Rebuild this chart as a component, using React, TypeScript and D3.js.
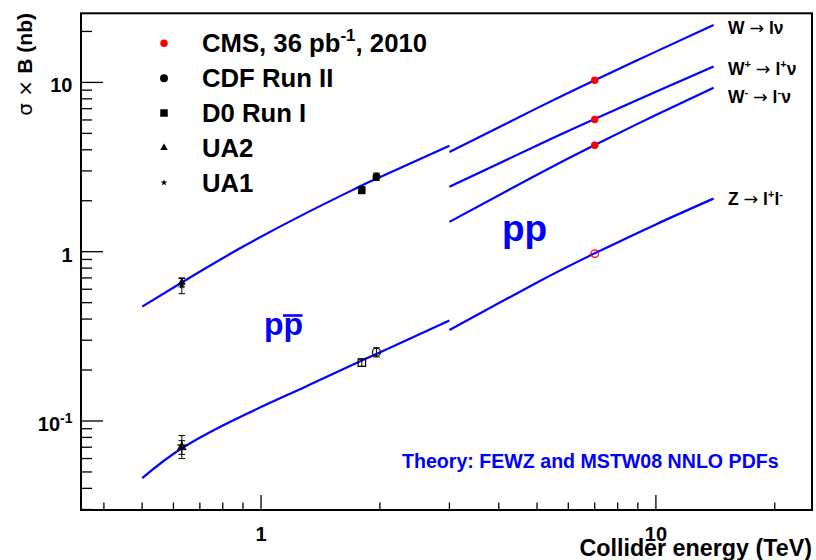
import * as d3 from "d3";

// axis ranges (TeV, nb)
const xDomain = [0.35, 24.85];
const yDomain = [0.0298, 25.6];
const xLabelValues = [1, 10];
const yLabelValues = [0.1, 1, 10];

// theory curves, p-pbar
const ppbarEnergy = [0.5, 0.63, 0.88, 1.3, 1.8, 1.96, 3.0];
const ppbarW = [0.474, 0.658, 1.04, 1.69, 2.46, 2.7, 4.22];
const ppbarZ = [0.046, 0.069, 0.105, 0.16, 0.228, 0.249, 0.392];

// theory curves, pp
const ppEnergy = [3, 5, 7, 10, 14];
const ppW = [3.88, 7.05, 10.3, 15.2, 21.8];
const ppWplus = [2.42, 4.24, 6.07, 8.8, 12.4];
const ppWminus = [1.5, 2.85, 4.27, 6.42, 9.29];
const ppZ = [0.345, 0.658, 0.978, 1.45, 2.06];

// measurements
const experiments = ["CMS", "CDF", "D0", "UA2", "UA1"];
const expEnergy = [7, 1.96, 1.8, 0.63, 0.63];
const expW = [10.31, 2.775, 2.31, 0.66, 0.63];
const expWErr = [0, 0.14, 0.11, 0.04, 0.065];
const expZ = [0.974, 0.2549, 0.221, 0.07, 0.071];
const expZErr = [0, 0.016, 0.011, 0.0065, 0.011];
const cmsWplus = 6.04;
const cmsWminus = 4.26;

const legendLabels = ["CMS, 36 pb", "CDF Run II", "D0 Run I", "UA2", "UA1"];

const W = 816;
const H = 560;
const frame = { left: 81, top: 13.3, right: 812, bottom: 510 };
const BLUE = "#0000ff";
const RED = "#ff0000";
const FONT = "'Liberation Sans', Arial, Helvetica, sans-serif";
const SYM = "'DejaVu Sans', sans-serif";

const x = d3.scaleLog().domain(xDomain).range([frame.left, frame.right]);
const y = d3.scaleLog().domain(yDomain).range([frame.bottom, frame.top]);

const curve = (es: number[], vs: number[]) =>
  d3
    .line<number>()
    .x((_, i) => x(es[i]))
    .y((v) => y(v))
    .curve(d3.curveNatural)(vs) ?? "";

const symbolFor: Record<string, { type: d3.SymbolType; size: number }> = {
  CMS: { type: d3.symbolCircle, size: 44 },
  CDF: { type: d3.symbolCircle, size: 50 },
  D0: { type: d3.symbolSquare, size: 56 },
  UA2: { type: d3.symbolTriangle, size: 26 },
  UA1: { type: d3.symbolStar, size: 14 },
};

function Marker({ name, cx, cy, open = false, color = "#000" }: any) {
  const s = symbolFor[name];
  const d = d3.symbol().type(s.type).size(s.size)() ?? "";
  return (
    <path
      d={d}
      transform={`translate(${cx},${cy})`}
      fill={open ? "none" : color}
      stroke={color}
      strokeWidth={open ? 1.2 : 0}
    />
  );
}

function ErrBar({ cx, v, err }: { cx: number; v: number; err: number }) {
  if (!err) return null;
  const y1 = y(v + err);
  const y2 = y(v - err);
  return (
    <g stroke="#000" strokeWidth={1}>
      <line x1={cx} x2={cx} y1={y1} y2={y2} />
      <line x1={cx - 3.3} x2={cx + 3.3} y1={y1} y2={y1} />
      <line x1={cx - 3.3} x2={cx + 3.3} y1={y2} y2={y2} />
    </g>
  );
}

export default function App() {
  const yTicks = y.ticks();
  const xTicks = x.ticks();
  const isMajor = (v: number) => Math.abs(Math.log10(v) - Math.round(Math.log10(v))) < 1e-6;

  return (
    <div style={{ position: "absolute", left: 0, top: 0 }}>
      <svg width={W} height={H} viewBox={`0 0 ${W} ${H}`} style={{ display: "block", background: "#fff" }} fontFamily={FONT}>
        {/* ticks */}
        <g stroke="#000" strokeWidth={1.3}>
          {yTicks.map((t) => (
            <line key={"y" + t} x1={frame.left} x2={frame.left + (isMajor(t) ? 22 : 11)} y1={y(t)} y2={y(t)} />
          ))}
          {xTicks.map((t) => (
            <line key={"x" + t} x1={x(t)} x2={x(t)} y1={frame.bottom} y2={frame.bottom - (isMajor(t) ? 15 : 7.5)} />
          ))}
        </g>

        {/* theory curves */}
        <g fill="none" stroke={BLUE} strokeWidth={2.2}>
          <path d={curve(ppbarEnergy, ppbarW)} />
          <path d={curve(ppbarEnergy, ppbarZ)} />
          <path d={curve(ppEnergy, ppW)} />
          <path d={curve(ppEnergy, ppWplus)} />
          <path d={curve(ppEnergy, ppWminus)} />
          <path d={curve(ppEnergy, ppZ)} />
        </g>

        {/* measurements */}
        {experiments.map((name, i) => {
          const cx = x(expEnergy[i]);
          if (name === "CMS") {
            return (
              <g key={name}>
                <Marker name={name} cx={cx} cy={y(expW[i])} color={RED} />
                <Marker name={name} cx={cx} cy={y(cmsWplus)} color={RED} />
                <Marker name={name} cx={cx} cy={y(cmsWminus)} color={RED} />
                <Marker name={name} cx={cx} cy={y(expZ[i])} color={RED} open />
              </g>
            );
          }
          return (
            <g key={name}>
              <ErrBar cx={cx} v={expW[i]} err={expWErr[i]} />
              <ErrBar cx={cx} v={expZ[i]} err={expZErr[i]} />
              <Marker name={name} cx={cx} cy={y(expW[i])} />
              <Marker name={name} cx={cx} cy={y(expZ[i])} open />
            </g>
          );
        })}

        {/* frame */}
        <rect
          x={frame.left}
          y={frame.top}
          width={frame.right - frame.left}
          height={frame.bottom - frame.top}
          fill="none"
          stroke="#000"
          strokeWidth={2}
        />

        {/* y tick labels */}
        <g fontWeight="bold" fontSize={20} textAnchor="end">
          {yLabelValues.map((v) =>
            v === 0.1 ? (
              <text key={v} x={72.5} y={y(v) + 10}>
                10<tspan fontSize={14} dy={-8}>-1</tspan>
              </text>
            ) : (
              <text key={v} x={72.5} y={y(v) + 10}>
                {v}
              </text>
            )
          )}
        </g>

        {/* x tick labels */}
        <g fontWeight="bold" fontSize={20} textAnchor="middle">
          {xLabelValues.map((v) => (
            <text key={v} x={x(v)} y={540.5}>
              {v}
            </text>
          ))}
        </g>

        {/* axis titles */}
        <text x={812} y={556} textAnchor="end" fontWeight="bold" fontSize={23.3}>
          Collider energy (TeV)
        </text>
        <text transform="translate(32,13) rotate(-90)" textAnchor="end" fontSize={21} fontWeight="bold">
          <tspan fontWeight="normal" fontFamily={SYM} fontSize={20}>σ × </tspan>B (nb)
        </text>

        {/* legend */}
        {experiments.map((name, i) => {
          const cy = 43.3 + i * 34.85;
          return (
            <g key={"leg" + name}>
              <Marker name={name} cx={164} cy={cy} color={name === "CMS" ? RED : "#000"} />
              <text x={202} y={cy + 9} fontWeight="bold" fontSize={25.7}>
                {legendLabels[i]}
                {name === "CMS" && (
                  <>
                    <tspan fontSize={17} dy={-11}>-1</tspan>
                    <tspan dy={11}>, 2010</tspan>
                  </>
                )}
              </text>
            </g>
          );
        })}

        {/* curve labels */}
        <g fontWeight="bold" fontSize={17.5}>
          <text x={728} y={34}>
            W <tspan fontWeight="normal" fontFamily={SYM}>→</tspan> lν
          </text>
          <text x={728} y={75}>
            W<tspan fontSize={11} dy={-7}>+</tspan>
            <tspan dy={7}> </tspan>
            <tspan fontWeight="normal" fontFamily={SYM}>→</tspan> l<tspan fontSize={11} dy={-7}>+</tspan>
            <tspan dy={7}>ν</tspan>
          </text>
          <text x={728} y={103}>
            W<tspan fontSize={11} dy={-7}>-</tspan>
            <tspan dy={7}> </tspan>
            <tspan fontWeight="normal" fontFamily={SYM}>→</tspan> l<tspan fontSize={11} dy={-7}>-</tspan>
            <tspan dy={7}>ν</tspan>
          </text>
          <text x={728} y={205}>
            Z <tspan fontWeight="normal" fontFamily={SYM}>→</tspan> l<tspan fontSize={11} dy={-7}>+</tspan>
            <tspan dy={7}>l</tspan>
            <tspan fontSize={11} dy={-7}>-</tspan>
          </text>
        </g>

        {/* collider labels */}
        <text x={502} y={241} fill={BLUE} fontWeight="bold" fontSize={37}>
          pp
        </text>
        <text x={264} y={335} fill={BLUE} fontWeight="bold" fontSize={32}>
          pp
        </text>
        <line x1={283} x2={302.5} y1={315.5} y2={315.5} stroke={BLUE} strokeWidth={2.6} />

        <text x={402} y={468} fill={BLUE} fontWeight="bold" fontSize={19.6}>
          Theory: FEWZ and MSTW08 NNLO PDFs
        </text>
      </svg>
    </div>
  );
}
